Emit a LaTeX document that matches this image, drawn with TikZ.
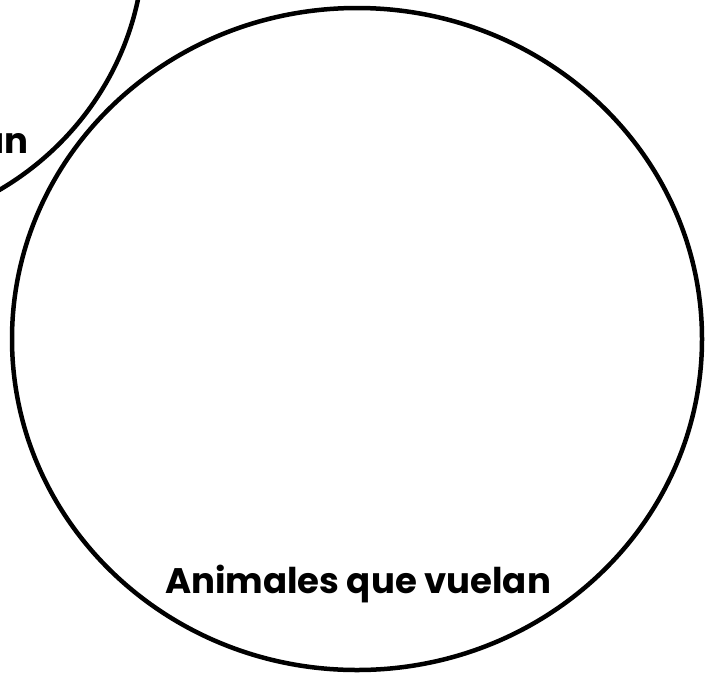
\documentclass[tikz,border=0pt]{standalone}
\usepackage{fontspec}
\setmainfont{Poppins}
\begin{document}
\begin{tikzpicture}[x=1pt,y=-1pt,
  setline/.style={line width=4.5pt,draw=black},
  setlabel/.style={font=\fontsize{35.5}{40}\selectfont\bfseries,inner sep=0pt}]
\useasboundingbox (0,0) rectangle (714,673);
\clip (0,0) rectangle (714,673);
\fill[white] (0,0) rectangle (714,673);
% partial set at top left
\draw[setline] (-153,-59) ellipse [x radius=297, y radius=290];
\node[setlabel,anchor=base east] (lblA) at (29,153) {an};
% main set
\draw[setline] (357,339) ellipse [x radius=345, y radius=331];
\node[setlabel,anchor=base] (lblB) at (358,593) {Animales que vuelan};
\end{tikzpicture}
\end{document}
